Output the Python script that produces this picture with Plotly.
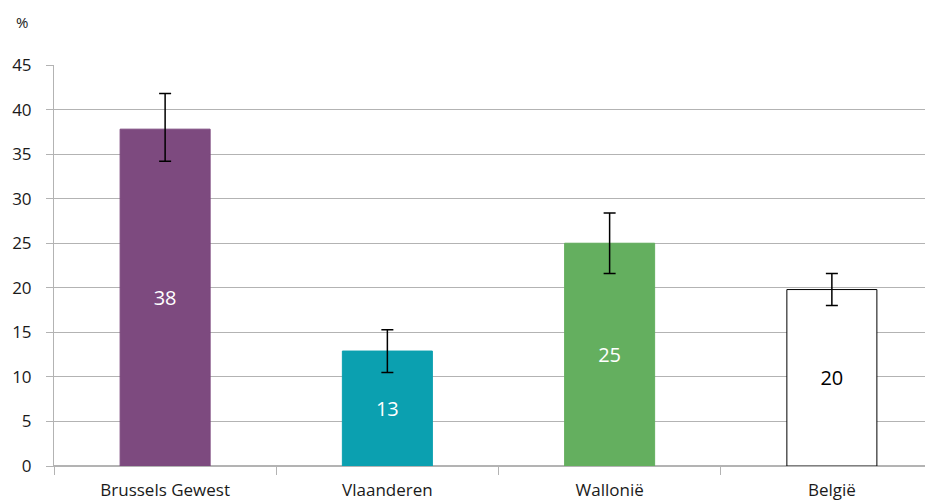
import plotly.graph_objects as go

categories = ["Brussels Gewest", "Vlaanderen", "Wallonië", "België"]
values = [37.8, 12.9, 25.0, 19.8]
labels = ["38", "13", "25", "20"]
err_upper = [41.8, 15.3, 28.4, 21.6]
err_lower = [34.2, 10.5, 21.6, 18.0]
y_ticks = [0, 5, 10, 15, 20, 25, 30, 35, 40, 45]

colors = ["#7D4A7F", "#0BA0B0", "#64AF5F", "#FFFFFF"]
text_colors = ["#FFFFFF", "#FFFFFF", "#FFFFFF", "#000000"]
line_colors = ["#7D4A7F", "#0BA0B0", "#64AF5F", "#000000"]

FONT = "Open Sans, Noto Sans, sans-serif"

# page body has an 8px margin, so the figure starts at (8, 8) on screen
W, H = 925, 496
L, R, T, B = 46, 0, 57, 38
PW = W - L - R
PH = H - T - B

fig = go.Figure()
fig.add_trace(go.Bar(
    x=categories,
    y=values,
    text=labels,
    textposition="inside",
    insidetextanchor="middle",
    textfont=dict(size=20, color=text_colors, family=FONT),
    marker=dict(color=colors, line=dict(color=line_colors, width=1)),
    width=0.405,
    error_y=dict(
        type="data",
        symmetric=False,
        array=[u - v for u, v in zip(err_upper, values)],
        arrayminus=[v - l for v, l in zip(values, err_lower)],
        color="#000000",
        thickness=1.5,
        width=6,
    ),
    showlegend=False,
))

fig.update_layout(
    width=W,
    height=H,
    margin=dict(l=L, r=R, t=T, b=B),
    plot_bgcolor="white",
    paper_bgcolor="white",
    font=dict(family=FONT, size=17, color="#1a1a1a"),
    annotations=[dict(
        text="%", showarrow=False, xref="paper", yref="paper",
        x=(14 - L) / PW, y=1 + (T - 14) / PH,
        font=dict(size=15, color="#1a1a1a"),
        xanchor="center", yanchor="middle",
    )],
)

fig.update_xaxes(
    range=[-0.5, 3.5 - 10 / 222.3],
    automargin=False,
    showline=True, linecolor="#b3b3b3", linewidth=1,
    ticks="outside", tickson="boundaries", ticklen=8, tickcolor="#b3b3b3",
    showgrid=False,
    tickfont=dict(size=17, color="#1a1a1a"),
    ticklabelstandoff=9,
)
fig.update_yaxes(
    range=[0, 45],
    automargin=False,
    tickvals=y_ticks,
    showline=True, linecolor="#b3b3b3", linewidth=1,
    showgrid=True, gridcolor="#b3b3b3", gridwidth=1,
    ticks="outside", ticklen=7, tickcolor="#b3b3b3",
    zeroline=True, zerolinecolor="#b3b3b3",
    tickfont=dict(size=17, color="#1a1a1a"),
    ticklabelstandoff=11,
)

fig.write_html("out.html")
